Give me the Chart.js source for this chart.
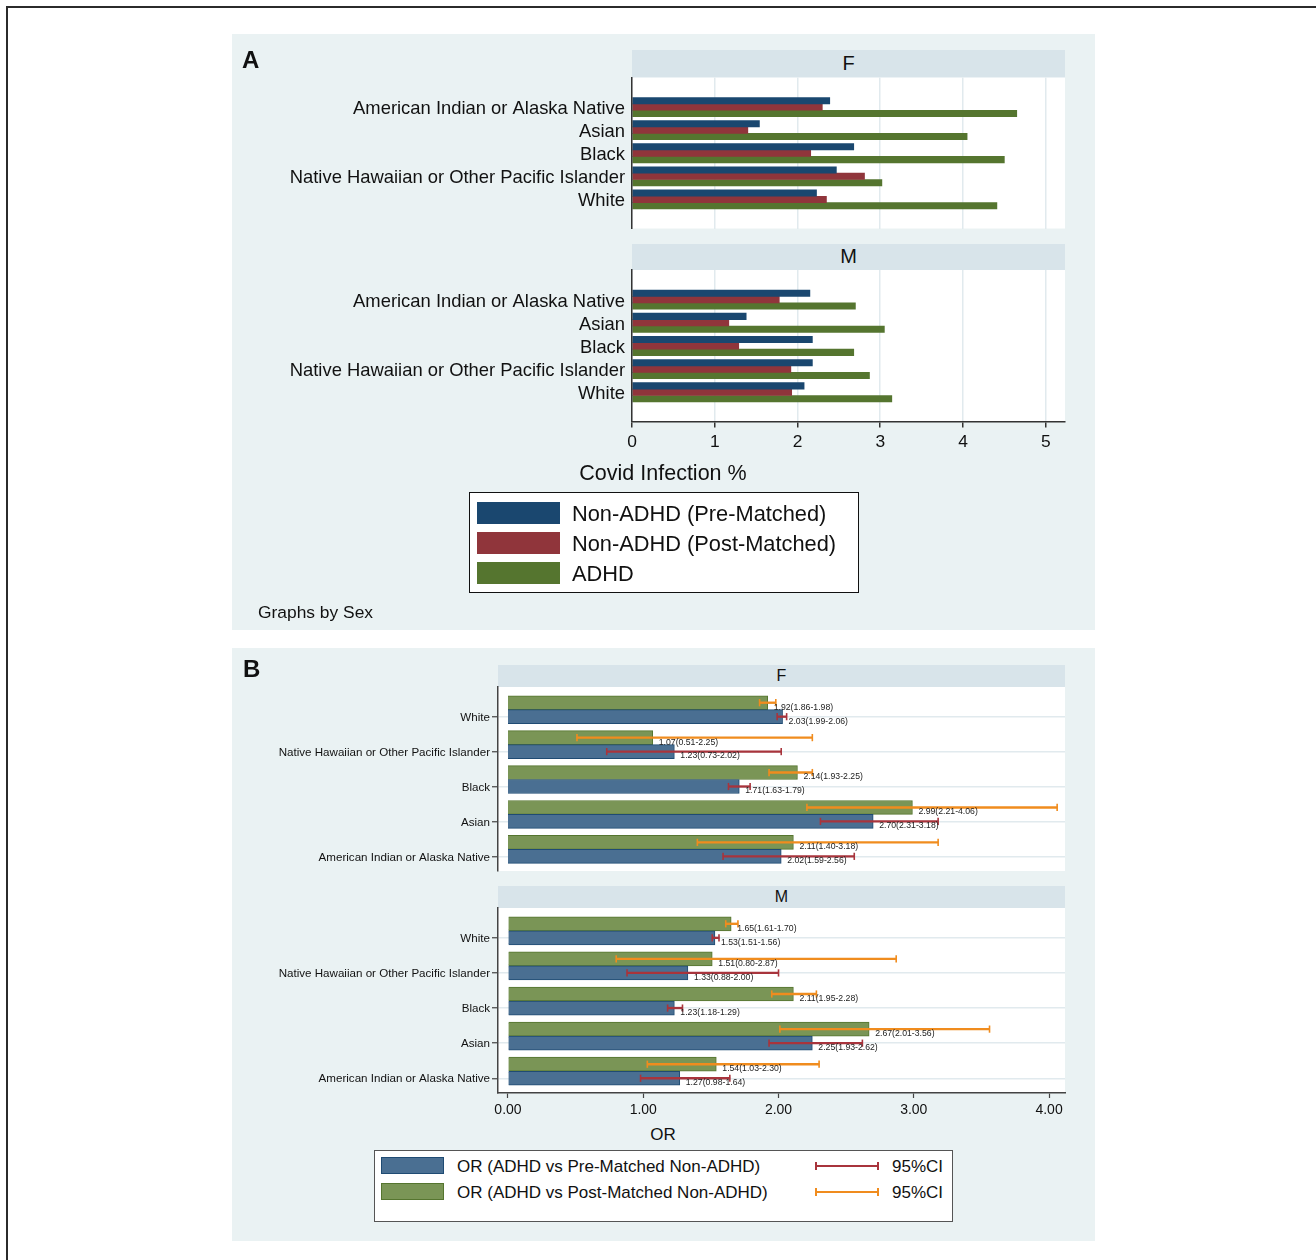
<!DOCTYPE html>
<html>
<head>
<meta charset="utf-8">
<title>Covid infection and odds ratios by race and sex</title>
<script src="https://cdn.jsdelivr.net/npm/chart.js@4.4.0/dist/chart.umd.min.js"></script>
<style>
  html, body { margin: 0; padding: 0; background: #fff; width: 1316px; height: 1260px; overflow: hidden; }
  body { position: relative; font-family: "Liberation Sans", Arial, sans-serif; color: #111; }
  #frame { position: absolute; left: 6px; top: 6px; width: 1400px; height: 1400px; border: 2px solid #2b2b2b; box-sizing: border-box; }
  .panel { position: absolute; background: #EAF2F3; }
  .strip { position: absolute; background: #D8E4EA; display: flex; align-items: center; justify-content: center; line-height: 1; color: #111; }
  .txt { position: absolute; line-height: 1; white-space: nowrap; color: #111; }
  .box { position: absolute; background: #fff; box-sizing: border-box; }
  .sw { position: absolute; box-sizing: border-box; }
  canvas { position: absolute; }
</style>
</head>
<body>
<div id="frame"></div>
<div class="panel" style="left:232px;top:34px;width:863px;height:596px;"></div>
<div class="panel" style="left:232px;top:648px;width:863px;height:593px;"></div>

<div class="strip" style="left:632px;top:49.5px;width:433px;height:28px;font-size:20px;padding-bottom:1px;box-sizing:border-box;">F</div>
<div class="strip" style="left:632px;top:243.5px;width:433px;height:26.5px;font-size:20px;padding-bottom:1px;box-sizing:border-box;">M</div>
<div class="strip" style="left:498px;top:665px;width:567px;height:22px;font-size:16px;padding-bottom:1px;box-sizing:border-box;">F</div>
<div class="strip" style="left:498px;top:886px;width:567px;height:22px;font-size:16px;padding-bottom:1px;box-sizing:border-box;">M</div>

<script>
// ---------- Panel A: Covid infection % by race, sex and group ----------
const raceCategories = [
  'American Indian or Alaska Native',
  'Asian',
  'Black',
  'Native Hawaiian or Other Pacific Islander',
  'White'
];
const infectionSeries = ['Non-ADHD (Pre-Matched)', 'Non-ADHD (Post-Matched)', 'ADHD'];

const femalePreMatched  = [2.39, 1.54, 2.68, 2.47, 2.23];
const femalePostMatched = [2.30, 1.40, 2.16, 2.81, 2.35];
const femaleADHD        = [4.65, 4.05, 4.50, 3.02, 4.41];

const malePreMatched    = [2.15, 1.38, 2.18, 2.18, 2.08];
const malePostMatched   = [1.78, 1.17, 1.29, 1.92, 1.93];
const maleADHD          = [2.70, 3.05, 2.68, 2.87, 3.14];

const infectionTicks = [0, 1, 2, 3, 4, 5];

// ---------- Panel B: odds ratios with 95% CI ----------
const orCategories = [
  'White',
  'Native Hawaiian or Other Pacific Islander',
  'Black',
  'Asian',
  'American Indian or Alaska Native'
];
const orSeries = ['OR (ADHD vs Pre-Matched Non-ADHD)', 'OR (ADHD vs Post-Matched Non-ADHD)'];
const ciLabel = '95%CI';

const femaleOrPre    = [2.03, 1.23, 1.71, 2.70, 2.02];
const femaleOrPreLo  = [1.99, 0.73, 1.63, 2.31, 1.59];
const femaleOrPreHi  = [2.06, 2.02, 1.79, 3.18, 2.56];
const femaleOrPost   = [1.92, 1.07, 2.14, 2.99, 2.11];
const femaleOrPostLo = [1.86, 0.51, 1.93, 2.21, 1.40];
const femaleOrPostHi = [1.98, 2.25, 2.25, 4.06, 3.18];

const maleOrPre      = [1.53, 1.33, 1.23, 2.25, 1.27];
const maleOrPreLo    = [1.51, 0.88, 1.18, 1.93, 0.98];
const maleOrPreHi    = [1.56, 2.00, 1.29, 2.62, 1.64];
const maleOrPost     = [1.65, 1.51, 2.11, 2.67, 1.54];
const maleOrPostLo   = [1.61, 0.80, 1.95, 2.01, 1.03];
const maleOrPostHi   = [1.70, 2.87, 2.28, 3.56, 2.30];

const orTicks = [0, 1, 2, 3, 4];

// ---------- styling ----------
const FONT = '"Liberation Sans", Arial, sans-serif';
const AXIS = '#333';
const GRID = '#E1EAEE';
const infectionColors = ['#1A476F', '#90353B', '#55752F'];
const PRE_FILL = '#4A6F92', PRE_EDGE = '#1F4B73';
const POST_FILL = '#7A9556', POST_EDGE = '#55752F';
const CI_PRE = '#A8343C', CI_POST = '#F08C1E';

const A_OFFSETS = [-0.277, 0, 0.277];   // bar centre offsets within a race row
const A_BAR = 0.277;                    // bar thickness in row units
const A_Y = { min: -1.28, max: 5.26 };
const A_X = { min: 0, max: 5.233 };

const POST_OFF = -0.4;                  // post-matched bar sits just above the pre-matched bar
const B_BAR = 0.4;
const B_Y = { min: -0.85, max: 4.42 };
const B_X = { min: -0.0739, max: 4.118 };

Chart.defaults.font.family = FONT;

// ---------- helpers ----------
function addText(str, o) {
  const d = document.createElement('div');
  d.className = 'txt';
  d.textContent = str;
  d.style.fontSize = o.size + 'px';
  if (o.bold) d.style.fontWeight = 'bold';
  d.style.top = (o.base - 0.8464 * o.size) + 'px';
  if (o.center !== undefined) { d.style.left = o.center + 'px'; d.style.transform = 'translateX(-50%)'; }
  else d.style.left = o.left + 'px';
  document.body.appendChild(d);
}
function addRect(l, t, w, h, bg, cls, extra) {
  const d = document.createElement('div');
  d.className = cls || 'sw';
  d.style.left = l + 'px'; d.style.top = t + 'px';
  d.style.width = w + 'px'; d.style.height = h + 'px';
  if (bg) d.style.background = bg;
  if (extra) Object.assign(d.style, extra);
  document.body.appendChild(d);
  return d;
}

const plotBg = {
  id: 'plotBg',
  beforeDraw(chart) {
    const { ctx, chartArea: a } = chart;
    ctx.save();
    ctx.fillStyle = '#fff';
    ctx.fillRect(a.left, a.top, a.right - a.left, a.bottom - a.top);
    ctx.restore();
  }
};

function orLabels(rows) {
  return {
    id: 'orLabels',
    afterDatasetsDraw(chart) {
      const { ctx, scales: { x, y } } = chart;
      ctx.save();
      ctx.font = '8.7px ' + FONT;
      ctx.fillStyle = '#222';
      ctx.textBaseline = 'middle';
      ctx.textAlign = 'left';
      rows.forEach(r => r.vals.forEach((v, i) => {
        const t = v.toFixed(2) + '(' + r.lo[i].toFixed(2) + '-' + r.hi[i].toFixed(2) + ')';
        ctx.fillText(t, x.getPixelForValue(v) + 6, y.getPixelForValue(i + r.off) + 4.5);
      }));
      ctx.restore();
    }
  };
}

function makeChart(box, area, cfg) {
  const c = document.createElement('canvas');
  const w = box.r - box.l, h = box.b - box.t;
  c.width = w; c.height = h;
  c.style.left = box.l + 'px'; c.style.top = box.t + 'px';
  c.style.width = w + 'px'; c.style.height = h + 'px';
  document.body.appendChild(c);
  const o = cfg.options;
  Object.assign(o, { responsive: false, animation: false, devicePixelRatio: 1, events: [], indexAxis: 'y' });
  o.layout = { padding: { left: 0, top: area.t - box.t, right: box.r - area.r, bottom: 0 } };
  o.plugins = { legend: { display: false }, tooltip: { enabled: false } };
  o.scales.y.afterFit = s => { s.width = area.l - box.l; s.paddingTop = 0; s.paddingBottom = 0; };
  o.scales.x.afterFit = s => { s.height = box.b - area.b; s.paddingLeft = 0; s.paddingRight = 0; };
  cfg.plugins = [plotBg].concat(cfg.plugins || []);
  return new Chart(c, cfg);
}

function infectionChart(box, area, series, showAxis) {
  const px = (area.b - area.t) / (A_Y.max - A_Y.min);
  return makeChart(box, area, {
    type: 'bar',
    data: {
      datasets: series.map((vals, k) => ({
        label: infectionSeries[k],
        data: vals.map((v, i) => ({ x: v, y: i + A_OFFSETS[k] })),
        backgroundColor: infectionColors[k],
        borderWidth: 0,
        barThickness: px * A_BAR,
        grouped: false,
        indexAxis: 'y'
      }))
    },
    options: {
      scales: {
        x: {
          type: 'linear', position: 'bottom', min: A_X.min, max: A_X.max, bounds: 'data', offset: false,
          afterBuildTicks: s => { s.ticks = infectionTicks.map(v => ({ value: v })); },
          grid: { color: GRID, lineWidth: 1.5, drawTicks: showAxis, tickLength: 6, tickColor: AXIS, tickWidth: 1.5, offset: false },
          border: { display: showAxis, color: AXIS, width: 1.5, z: 1 },
          ticks: { display: showAxis, color: '#111', font: { family: FONT, size: 17.4 }, padding: 4, maxRotation: 0, autoSkip: false }
        },
        y: {
          type: 'linear', position: 'left', reverse: true, min: A_Y.min, max: A_Y.max, bounds: 'data', offset: false,
          afterBuildTicks: s => { s.ticks = raceCategories.map((_, i) => ({ value: i })); },
          grid: { display: false, drawTicks: false, offset: false },
          border: { display: true, color: AXIS, width: 1.5, z: 1 },
          ticks: { color: '#111', font: { family: FONT, size: 18.4 }, padding: 7, labelOffset: 2, autoSkip: false,
                   callback: v => raceCategories[v] }
        }
      }
    }
  });
}

function orChart(box, area, d, showAxis) {
  const px = (area.b - area.t) / (B_Y.max - B_Y.min);
  const rowPre = d.pre.map((_, i) => i);
  const rowPost = d.post.map((_, i) => i + POST_OFF);
  const caps = (lo, hi, rows) => lo.flatMap((l, i) => [{ x: l, y: rows[i] }, { x: hi[i], y: rows[i] }]);
  return makeChart(box, area, {
    type: 'bar',
    data: {
      datasets: [
        { type: 'bar', label: orSeries[0], data: d.pre.map((v, i) => ({ x: v, y: rowPre[i] })),
          backgroundColor: PRE_FILL, borderColor: PRE_EDGE, borderWidth: 1, barThickness: px * B_BAR, grouped: false, indexAxis: 'y', order: 5 },
        { type: 'bar', label: orSeries[1], data: d.post.map((v, i) => ({ x: v, y: rowPost[i] })),
          backgroundColor: POST_FILL, borderColor: POST_EDGE, borderWidth: 1, barThickness: px * B_BAR, grouped: false, indexAxis: 'y', order: 5 },
        { type: 'bar', label: ciLabel, data: d.preLo.map((l, i) => ({ x: [l, d.preHi[i]], y: rowPre[i] })),
          backgroundColor: CI_PRE, borderWidth: 0, barThickness: 1.7, grouped: false, indexAxis: 'y', order: 3 },
        { type: 'bar', label: ciLabel, data: d.postLo.map((l, i) => ({ x: [l, d.postHi[i]], y: rowPost[i] })),
          backgroundColor: CI_POST, borderWidth: 0, barThickness: 1.7, grouped: false, indexAxis: 'y', order: 3 },
        { type: 'scatter', label: ciLabel, data: caps(d.preLo, d.preHi, rowPre), showLine: false,
          pointStyle: 'line', pointRotation: 90, pointRadius: 3.6, pointBorderWidth: 1.6,
          pointBorderColor: CI_PRE, pointBackgroundColor: CI_PRE, order: 1 },
        { type: 'scatter', label: ciLabel, data: caps(d.postLo, d.postHi, rowPost), showLine: false,
          pointStyle: 'line', pointRotation: 90, pointRadius: 3.6, pointBorderWidth: 1.6,
          pointBorderColor: CI_POST, pointBackgroundColor: CI_POST, order: 1 }
      ]
    },
    options: {
      scales: {
        x: {
          type: 'linear', position: 'bottom', min: B_X.min, max: B_X.max, bounds: 'data', offset: false,
          afterBuildTicks: s => { s.ticks = orTicks.map(v => ({ value: v })); },
          grid: { display: showAxis, drawOnChartArea: false, drawTicks: showAxis, tickLength: 5, tickColor: '#444', tickWidth: 1.2, offset: false },
          border: { display: showAxis, color: '#444', width: 1.5, z: 1 },
          ticks: { display: showAxis, color: '#111', font: { family: FONT, size: 14 }, padding: 4, maxRotation: 0, autoSkip: false,
                   callback: v => v.toFixed(2) }
        },
        y: {
          type: 'linear', position: 'left', reverse: true, min: B_Y.min, max: B_Y.max, bounds: 'data', offset: false,
          afterBuildTicks: s => { s.ticks = orCategories.map((_, i) => ({ value: i })); },
          grid: { display: true, color: GRID, lineWidth: 1.5, drawTicks: true, tickLength: 6, tickColor: '#444', tickWidth: 1.2, offset: false },
          border: { display: true, color: '#444', width: 1.5, z: 1 },
          ticks: { color: '#111', font: { family: FONT, size: 11.6 }, padding: 2, labelOffset: 1, autoSkip: false,
                   callback: v => orCategories[v] }
        }
      }
    },
    plugins: [orLabels([
      { vals: d.pre, lo: d.preLo, hi: d.preHi, off: 0 },
      { vals: d.post, lo: d.postLo, hi: d.postHi, off: POST_OFF }
    ])]
  });
}

// ---------- Panel A charts ----------
infectionChart({ l: 236, t: 70, r: 1072, b: 236 }, { l: 632, t: 77.5, r: 1065, b: 228.5 },
  [femalePreMatched, femalePostMatched, femaleADHD], false);
infectionChart({ l: 236, t: 262, r: 1072, b: 462 }, { l: 632, t: 270, r: 1065, b: 421.5 },
  [malePreMatched, malePostMatched, maleADHD], true);

// ---------- Panel B charts ----------
orChart({ l: 236, t: 680, r: 1072, b: 880 }, { l: 498, t: 687, r: 1065, b: 871 }, {
  pre: femaleOrPre, preLo: femaleOrPreLo, preHi: femaleOrPreHi,
  post: femaleOrPost, postLo: femaleOrPostLo, postHi: femaleOrPostHi
}, false);
orChart({ l: 236, t: 900, r: 1072, b: 1125 }, { l: 498, t: 908, r: 1065, b: 1093 }, {
  pre: maleOrPre, preLo: maleOrPreLo, preHi: maleOrPreHi,
  post: maleOrPost, postLo: maleOrPostLo, postHi: maleOrPostHi
}, true);

// ---------- titles and notes ----------
addText('A', { left: 242, base: 68.3, size: 24, bold: true });
addText('B', { left: 243, base: 677.7, size: 24, bold: true });
addText('Covid Infection %', { center: 663, base: 481, size: 21.5 });
addText('Graphs by Sex', { left: 258, base: 619, size: 17.4 });
addText('OR', { center: 663, base: 1140.5, size: 17 });

// ---------- legend A ----------
addRect(469, 492, 390, 101, null, 'box', { border: '1.5px solid #111' });
[502, 532, 562].forEach((t, k) => {
  addRect(477, t, 83, 21.5, infectionColors[k]);
  addText(infectionSeries[k], { left: 572, base: t + 19, size: 21.8 });
});

// ---------- legend B ----------
addRect(374, 1150, 579, 72, null, 'box', { border: '1px solid #555' });
[[1157, PRE_FILL, PRE_EDGE, CI_PRE], [1183, POST_FILL, POST_EDGE, CI_POST]].forEach((r, k) => {
  const [t, fill, edge, ci] = r;
  addRect(380.5, t, 63.5, 17, fill, 'sw', { border: '1px solid ' + edge });
  addText(orSeries[k], { left: 457, base: t + 15, size: 17 });
  const cy = t + 9;
  addRect(815, cy - 1, 64, 2, ci);
  addRect(815, cy - 3.6, 1.8, 7.2, ci);
  addRect(877.2, cy - 3.6, 1.8, 7.2, ci);
  addText(ciLabel, { left: 892, base: t + 15, size: 17 });
});
</script>
</body>
</html>
